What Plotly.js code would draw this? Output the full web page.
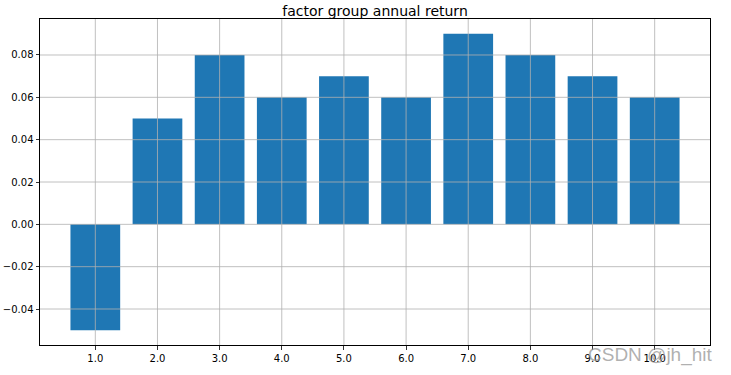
<!DOCTYPE html>
<html>
<head>
<meta charset="utf-8">
<script src="https://cdn.plot.ly/plotly-3.0.1.min.js"></script>
<style>html,body{margin:0;padding:0;background:#fff;}#chart{width:731px;height:375px;}</style>
</head>
<body>
<div id="chart"></div>
<script>
const groups = [1, 2, 3, 4, 5, 6, 7, 8, 9, 10];
const annualReturn = [-0.05, 0.05, 0.08, 0.06, 0.07, 0.06, 0.09, 0.08, 0.07, 0.06];
const xTickLabels = ['1.0', '2.0', '3.0', '4.0', '5.0', '6.0', '7.0', '8.0', '9.0', '10.0'];
const yTickVals = [-0.04, -0.02, 0.00, 0.02, 0.04, 0.06, 0.08];
const yTickLabels = ['\u22120.04', '\u22120.02', '0.00', '0.02', '0.04', '0.06', '0.08'];

const gridColor = '#b0b0b0';
const shapes = [];
groups.forEach(v => shapes.push({type:'line', layer:'above', xref:'x', yref:'paper', x0:v, x1:v, y0:0, y1:1, line:{color:gridColor, width:0.8}}));
yTickVals.forEach(v => shapes.push({type:'line', layer:'above', xref:'paper', yref:'y', x0:0, x1:1, y0:v, y1:v, line:{color:gridColor, width:0.8}}));

const trace = {
  type: 'bar',
  x: groups,
  y: annualReturn,
  width: 0.8,
  marker: {color: '#1f77b4', line: {width: 0}},
  hoverinfo: 'x+y'
};

const layout = {
  width: 731, height: 375,
  paper_bgcolor: '#fff', plot_bgcolor: '#fff',
  margin: {l: 40, r: 21, t: 19, b: 30},
  font: {family: 'DejaVu Sans', size: 10, color: '#000'},
  title: {text: 'factor group annual return', font: {family: 'DejaVu Sans', size: 14, color: '#000'}, x: 0.5, xanchor: 'center', xref: 'paper', y: 1, yref: 'paper', yanchor: 'bottom', pad: {b: 3}},
  showlegend: false,
  bargap: 0.2,
  xaxis: {
    range: [0.11, 10.89],
    tickvals: groups, ticktext: xTickLabels,
    ticks: 'outside', ticklen: 3.5, tickwidth: 0.8, tickcolor: '#000',
    showgrid: false, zeroline: false,
    showline: true, linecolor: '#000', linewidth: 1, mirror: true,
    tickfont: {family: 'DejaVu Sans', size: 10, color: '#000'}
  },
  yaxis: {
    range: [-0.057, 0.097],
    tickvals: yTickVals, ticktext: yTickLabels,
    ticks: 'outside', ticklen: 3.5, tickwidth: 0.8, tickcolor: '#000',
    showgrid: false, zeroline: false,
    showline: true, linecolor: '#000', linewidth: 1, mirror: true,
    tickfont: {family: 'DejaVu Sans', size: 10, color: '#000'}
  },
  shapes: shapes,
  annotations: [{
    text: 'CSDN @jh_hit', xref: 'paper', yref: 'paper', x: 1.0075, y: -0.031,
    xanchor: 'right', yanchor: 'middle', showarrow: false,
    font: {family: 'Liberation Sans', size: 19, color: 'rgba(150,150,150,0.75)'}
  }]
};

Plotly.newPlot('chart', [trace], layout, {displayModeBar: false, staticPlot: true});
</script>
</body>
</html>
